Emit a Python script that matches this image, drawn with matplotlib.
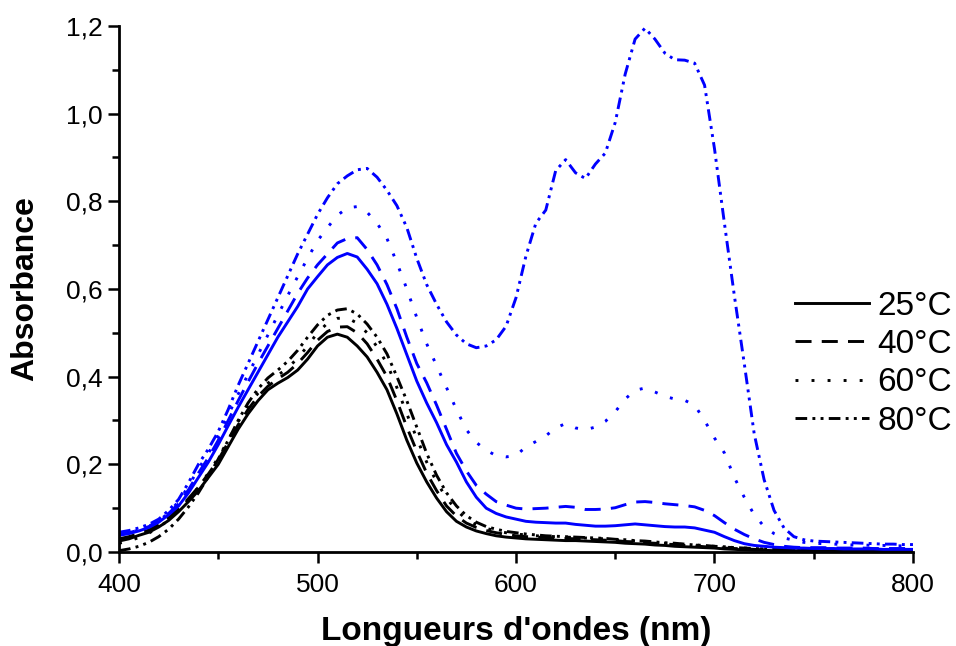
import numpy as np
import matplotlib
matplotlib.use("Agg")
import matplotlib.pyplot as plt
from matplotlib.lines import Line2D
from matplotlib.ticker import MultipleLocator, FuncFormatter

plt.rcParams['font.family'] = ['Liberation Sans', 'DejaVu Sans']

# wavelength grid (nm), 5 nm steps
wl = np.arange(400, 805, 5)

# ---- blue series ----
b25 = [0.038, 0.042, 0.048, 0.056, 0.068, 0.085, 0.105, 0.135, 0.170, 0.205,
       0.245, 0.288, 0.330, 0.370, 0.410, 0.450, 0.490, 0.525, 0.560, 0.600,
       0.628, 0.655, 0.672, 0.681, 0.673, 0.645, 0.612, 0.565, 0.510, 0.450,
       0.390, 0.340, 0.295, 0.245, 0.205, 0.160, 0.125, 0.100, 0.088, 0.080,
       0.075, 0.070, 0.068, 0.067, 0.066, 0.066, 0.063, 0.061, 0.059, 0.059,
       0.060, 0.062, 0.064, 0.062, 0.060, 0.058, 0.057, 0.057, 0.055, 0.050,
       0.045, 0.035, 0.026, 0.019, 0.015, 0.013, 0.011, 0.010, 0.009, 0.009,
       0.008, 0.008, 0.008, 0.007, 0.007, 0.007, 0.007, 0.006, 0.006, 0.006,
       0.006]
b40 = [0.040, 0.044, 0.050, 0.058, 0.070, 0.088, 0.110, 0.142, 0.180, 0.215,
       0.255, 0.300, 0.345, 0.388, 0.430, 0.470, 0.510, 0.550, 0.590, 0.625,
       0.655, 0.680, 0.705, 0.715, 0.717, 0.690, 0.655, 0.610, 0.555, 0.490,
       0.430, 0.386, 0.335, 0.280, 0.225, 0.185, 0.152, 0.132, 0.115, 0.107,
       0.100, 0.098, 0.099, 0.100, 0.102, 0.104, 0.102, 0.097, 0.097, 0.098,
       0.101, 0.108, 0.114, 0.115, 0.113, 0.110, 0.108, 0.106, 0.103, 0.095,
       0.083, 0.067, 0.052, 0.040, 0.030, 0.022, 0.017, 0.013, 0.011, 0.010,
       0.010, 0.010, 0.009, 0.009, 0.009, 0.009, 0.008, 0.008, 0.008, 0.008,
       0.008]
b60 = [0.040, 0.044, 0.050, 0.059, 0.070, 0.090, 0.115, 0.150, 0.190, 0.225,
       0.265, 0.312, 0.360, 0.405, 0.450, 0.495, 0.540, 0.585, 0.628, 0.670,
       0.710, 0.740, 0.768, 0.785, 0.788, 0.775, 0.750, 0.715, 0.660, 0.600,
       0.535, 0.475, 0.425, 0.375, 0.325, 0.279, 0.250, 0.232, 0.220, 0.217,
       0.220, 0.240, 0.252, 0.265, 0.283, 0.293, 0.283, 0.279, 0.285, 0.298,
       0.320, 0.349, 0.369, 0.374, 0.365, 0.355, 0.349, 0.346, 0.335, 0.300,
       0.260, 0.226, 0.170, 0.125, 0.085, 0.058, 0.042, 0.032, 0.027, 0.022,
       0.020, 0.019, 0.018, 0.017, 0.016, 0.016, 0.015, 0.015, 0.014, 0.014,
       0.013]
b80 = [0.045, 0.049, 0.055, 0.063, 0.075, 0.095, 0.120, 0.158, 0.200, 0.235,
       0.275, 0.325, 0.380, 0.430, 0.480, 0.530, 0.580, 0.630, 0.680, 0.725,
       0.770, 0.808, 0.840, 0.858, 0.872, 0.875, 0.855, 0.825, 0.790, 0.740,
       0.670, 0.610, 0.565, 0.525, 0.495, 0.475, 0.466, 0.470, 0.484, 0.515,
       0.580, 0.675, 0.750, 0.780, 0.870, 0.895, 0.865, 0.852, 0.885, 0.910,
       0.980, 1.090, 1.170, 1.195, 1.170, 1.138, 1.123, 1.122, 1.115, 1.065,
       0.920, 0.750, 0.585, 0.430, 0.270, 0.165, 0.095, 0.055, 0.035, 0.028,
       0.025, 0.024, 0.023, 0.022, 0.021, 0.020, 0.019, 0.018, 0.018, 0.017,
       0.017]

# ---- black series ----
k25 = [0.025, 0.030, 0.038, 0.045, 0.057, 0.072, 0.092, 0.115, 0.140, 0.170,
       0.200, 0.240, 0.280, 0.315, 0.345, 0.370, 0.385, 0.398, 0.415, 0.440,
       0.470, 0.490, 0.497, 0.490, 0.470, 0.445, 0.410, 0.370, 0.315, 0.255,
       0.203, 0.160, 0.123, 0.092, 0.070, 0.057, 0.048, 0.042, 0.037, 0.034,
       0.032, 0.030, 0.029, 0.028, 0.027, 0.026, 0.026, 0.025, 0.024, 0.023,
       0.022, 0.020, 0.019, 0.018, 0.016, 0.015, 0.013, 0.012, 0.011, 0.010,
       0.009, 0.007, 0.006, 0.005, 0.004, 0.004, 0.003, 0.003, 0.003, 0.003,
       0.003, 0.002, 0.002, 0.002, 0.002, 0.002, 0.002, 0.002, 0.002, 0.002,
       0.002]
k40 = [0.030, 0.035, 0.042, 0.050, 0.062, 0.078, 0.098, 0.122, 0.148, 0.178,
       0.210, 0.250, 0.290, 0.325, 0.355, 0.378, 0.395, 0.410, 0.430, 0.455,
       0.483, 0.503, 0.513, 0.514, 0.500, 0.475, 0.440, 0.400, 0.345, 0.285,
       0.230, 0.180, 0.140, 0.105, 0.082, 0.066, 0.056, 0.049, 0.044, 0.040,
       0.037, 0.035, 0.034, 0.033, 0.032, 0.031, 0.030, 0.029, 0.028, 0.027,
       0.026, 0.024, 0.023, 0.021, 0.020, 0.018, 0.017, 0.015, 0.014, 0.012,
       0.011, 0.009, 0.008, 0.007, 0.006, 0.005, 0.005, 0.004, 0.004, 0.004,
       0.004, 0.004, 0.004, 0.003, 0.003, 0.003, 0.003, 0.003, 0.003, 0.003,
       0.003]
k60 = [0.020, 0.025, 0.033, 0.043, 0.056, 0.073, 0.095, 0.120, 0.148, 0.180,
       0.215, 0.255, 0.297, 0.333, 0.362, 0.385, 0.403, 0.420, 0.442, 0.470,
       0.500, 0.522, 0.533, 0.534, 0.522, 0.500, 0.468, 0.430, 0.375, 0.315,
       0.260, 0.205, 0.160, 0.123, 0.095, 0.075, 0.062, 0.054, 0.048, 0.044,
       0.041, 0.039, 0.037, 0.036, 0.035, 0.034, 0.033, 0.032, 0.031, 0.030,
       0.028, 0.027, 0.025, 0.024, 0.022, 0.020, 0.019, 0.017, 0.016, 0.014,
       0.013, 0.011, 0.010, 0.009, 0.008, 0.007, 0.006, 0.006, 0.006, 0.005,
       0.005, 0.005, 0.005, 0.005, 0.005, 0.004, 0.004, 0.004, 0.004, 0.004,
       0.004]
k80 = [0.003, 0.007, 0.013, 0.022, 0.035, 0.052, 0.075, 0.103, 0.135, 0.172,
       0.212, 0.255, 0.300, 0.340, 0.372, 0.397, 0.415, 0.435, 0.460, 0.490,
       0.518, 0.540, 0.552, 0.555, 0.543, 0.520, 0.490, 0.452, 0.400, 0.345,
       0.285, 0.225, 0.175, 0.135, 0.105, 0.083, 0.068, 0.058, 0.052, 0.047,
       0.044, 0.041, 0.039, 0.037, 0.036, 0.035, 0.034, 0.033, 0.032, 0.031,
       0.029, 0.028, 0.026, 0.025, 0.023, 0.021, 0.020, 0.018, 0.016, 0.015,
       0.013, 0.012, 0.010, 0.009, 0.008, 0.007, 0.007, 0.006, 0.006, 0.006,
       0.005, 0.005, 0.005, 0.005, 0.005, 0.005, 0.005, 0.005, 0.005, 0.005,
       0.005]

labels = ['25°C', '40°C', '60°C', '80°C']

# line styles: solid, dashed, dotted, dash-dot-dot
styles = ['-', (0, (5.5, 3.5)), (0, (1, 4.5)), (0, (4, 1.8, 1, 1.8, 1, 1.8))]
lw = 2.1

fig = plt.figure(figsize=(9.56, 6.46), dpi=100)
ax = fig.add_axes([0.1245, 0.1455, 0.8305, 0.8143])

for ys, ls in zip([k25, k40, k60, k80], styles):
    ax.plot(wl, ys, color='black', ls=ls, lw=lw)
for ys, ls in zip([b25, b40, b60, b80], styles):
    ax.plot(wl, ys, color='#0000ff', ls=ls, lw=lw)

ax.set_xlim(400, 800)
ax.set_ylim(0, 1.2)
ax.xaxis.set_major_locator(MultipleLocator(100))
ax.xaxis.set_minor_locator(MultipleLocator(50))
ax.yaxis.set_major_locator(MultipleLocator(0.2))
ax.yaxis.set_minor_locator(MultipleLocator(0.1))
ax.yaxis.set_major_formatter(FuncFormatter(lambda v, p: f"{v:.1f}".replace('.', ',')))

for s in ['top', 'right']:
    ax.spines[s].set_visible(False)
for s in ['left', 'bottom']:
    ax.spines[s].set_linewidth(2)

ax.tick_params(which='major', direction='out', length=8, width=1.8, labelsize=19)
ax.tick_params(which='minor', direction='out', length=5, width=1.8)
ax.tick_params(axis='x', pad=7)
ax.tick_params(axis='y', pad=4)

ax.set_xlabel("Longueurs d'ondes (nm)", fontsize=24, fontweight='bold', labelpad=14)
ax.set_ylabel("Absorbance", fontsize=23, fontweight='bold', labelpad=18)

handles = [Line2D([0], [0], color='black', ls=ls, lw=lw) for ls in styles]
ax.legend(handles, labels, frameon=False, fontsize=24, loc='center left',
          bbox_to_anchor=(0.832, 0.437), bbox_transform=fig.transFigure,
          handlelength=2.2, handletextpad=0.25, labelspacing=0.22,
          borderaxespad=0, borderpad=0)

plt.savefig("out.png", dpi=100)
